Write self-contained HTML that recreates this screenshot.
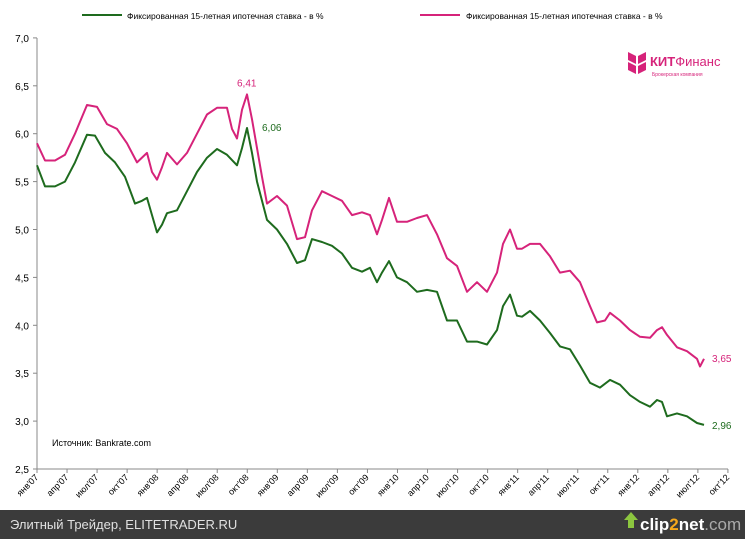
<!DOCTYPE html><html><head><meta charset="utf-8"><style>
body{margin:0;width:745px;height:539px;overflow:hidden;background:#fff;font-family:"Liberation Sans",sans-serif}
</style></head><body>
<svg id="s" width="745" height="539" xmlns="http://www.w3.org/2000/svg" font-family="Liberation Sans, sans-serif">
<rect x="0" y="510" width="745" height="29" fill="#3b3b3b"/>
<text x="10" y="529" font-size="13" fill="#e0e0e0">Элитный Трейдер, ELITETRADER.RU</text>
<path d="M628 528 l0-8 l-4 0 l7-8 l7 8 l-4 0 l0 8z" fill="#8cc63f"/>
<text x="640" y="530" font-size="17" font-weight="bold" fill="#fff">clip<tspan fill="#f7a81b">2</tspan>net<tspan fill="#aaa" font-weight="normal">.com</tspan></text>
<line x1="82" y1="15" x2="122" y2="15" stroke="#1e6b1e" stroke-width="2"/>
<text x="127" y="19" font-size="8.5" fill="#000">Фиксированная 15-летная ипотечная ставка - в %</text>
<line x1="420" y1="15" x2="460" y2="15" stroke="#d6237a" stroke-width="2"/>
<text x="466" y="19" font-size="8.5" fill="#000">Фиксированная 15-летная ипотечная ставка - в %</text>
<path d="M628 52 l8 4 l0 8 l-8 -4z M638 56 l8-4 l0 8 l-8 4z M628 62 l8 4 l0 8 l-8-4z M638 66 l8-4 l0 8 l-8 4z" fill="#d6237a"/>
<text x="650" y="66" font-size="13" font-weight="bold" fill="#d6237a">КИТ<tspan font-weight="normal">Финанс</tspan></text>
<text x="652" y="76" font-size="5" fill="#d6237a">Брокерская компания</text>
<text x="52" y="446" font-size="9" fill="#000">Источник: Bankrate.com</text>
<g id="g"></g>
</svg>
<script>
const g=document.getElementById('g');let h='';
const Y=v=>469-(v-2.5)*95.8;
h+='<line x1="37" y1="38" x2="37" y2="469" stroke="#888"/><line x1="37" y1="469" x2="728" y2="469" stroke="#888"/>';
for(let i=0;i<=9;i++){const v=2.5+i*0.5,y=Y(v);h+=`<line x1="33" y1="${y}" x2="37" y2="${y}" stroke="#888"/><text x="29" y="${y+4}" font-size="10" text-anchor="end" fill="#000">${v.toFixed(1).replace('.',',')}</text>`;}
const m=['янв','апр','июл','окт'];
for(let i=0;i<24;i++){const x=37+i*30.04,l=m[i%4]+"'"+String(7+Math.floor(i/4)).padStart(2,'0');h+=`<line x1="${x}" y1="469" x2="${x}" y2="473" stroke="#888"/><text transform="translate(${x+2},478) rotate(-45)" font-size="9" text-anchor="end" fill="#000">${l}</text>`;}
const G=[37,5.67,45,5.45,55,5.45,65,5.5,75,5.7,87,5.99,95,5.98,105,5.8,115,5.7,125,5.55,135,5.27,142,5.3,147,5.33,152,5.15,157,4.97,162,5.05,167,5.17,177,5.2,187,5.4,197,5.6,207,5.75,217,5.84,227,5.78,237,5.67,242,5.85,247,6.06,252,5.8,257,5.5,262,5.3,267,5.1,277,5.0,287,4.85,297,4.65,305,4.68,312,4.9,322,4.87,332,4.83,342,4.75,352,4.6,362,4.56,370,4.6,377,4.45,382,4.55,389,4.67,397,4.5,407,4.45,417,4.35,427,4.37,437,4.35,447,4.05,457,4.05,467,3.83,477,3.83,487,3.8,497,3.95,503,4.2,510,4.32,517,4.1,522,4.09,530,4.15,540,4.05,550,3.92,560,3.78,570,3.75,580,3.58,590,3.4,600,3.35,610,3.43,620,3.38,630,3.27,640,3.2,650,3.15,657,3.22,662,3.2,667,3.05,677,3.08,687,3.05,697,2.98,704,2.96];
const P=[37,5.9,45,5.72,55,5.72,65,5.78,75,6.0,87,6.3,97,6.28,107,6.1,117,6.05,127,5.9,137,5.7,147,5.8,152,5.6,157,5.52,162,5.65,167,5.8,177,5.68,187,5.8,197,6.0,207,6.2,217,6.27,227,6.27,232,6.05,237,5.95,242,6.25,247,6.41,252,6.15,257,5.85,262,5.55,267,5.27,277,5.35,287,5.25,297,4.9,305,4.92,312,5.2,322,5.4,332,5.35,342,5.3,352,5.15,362,5.18,370,5.15,377,4.95,382,5.1,389,5.33,397,5.08,407,5.08,417,5.12,427,5.15,437,4.95,447,4.7,457,4.62,467,4.35,477,4.45,487,4.35,497,4.55,503,4.85,510,5.0,517,4.8,522,4.8,530,4.85,540,4.85,550,4.72,560,4.55,570,4.57,580,4.45,590,4.2,597,4.03,605,4.05,610,4.13,620,4.05,630,3.95,640,3.88,650,3.87,657,3.95,662,3.98,667,3.9,677,3.77,687,3.73,697,3.65,700,3.57,704,3.65];
const pl=(a,c)=>{let p=[];for(let i=0;i<a.length;i+=2)p.push(a[i]+','+Y(a[i+1]).toFixed(1));return `<polyline points="${p.join(' ')}" fill="none" stroke="${c}" stroke-width="2" stroke-linejoin="round"/>`};
h+=pl(P,'#d6237a')+pl(G,'#1e6b1e');
h+=`<text x="237" y="${Y(6.41)-8}" font-size="10" fill="#d6237a">6,41</text><text x="262" y="${Y(6.06)+3}" font-size="10" fill="#1e6b1e">6,06</text><text x="712" y="${Y(3.65)+3}" font-size="10" fill="#d6237a">3,65</text><text x="712" y="${Y(2.96)+4}" font-size="10" fill="#1e6b1e">2,96</text>`;
g.innerHTML=h;
</script>
</body></html>
